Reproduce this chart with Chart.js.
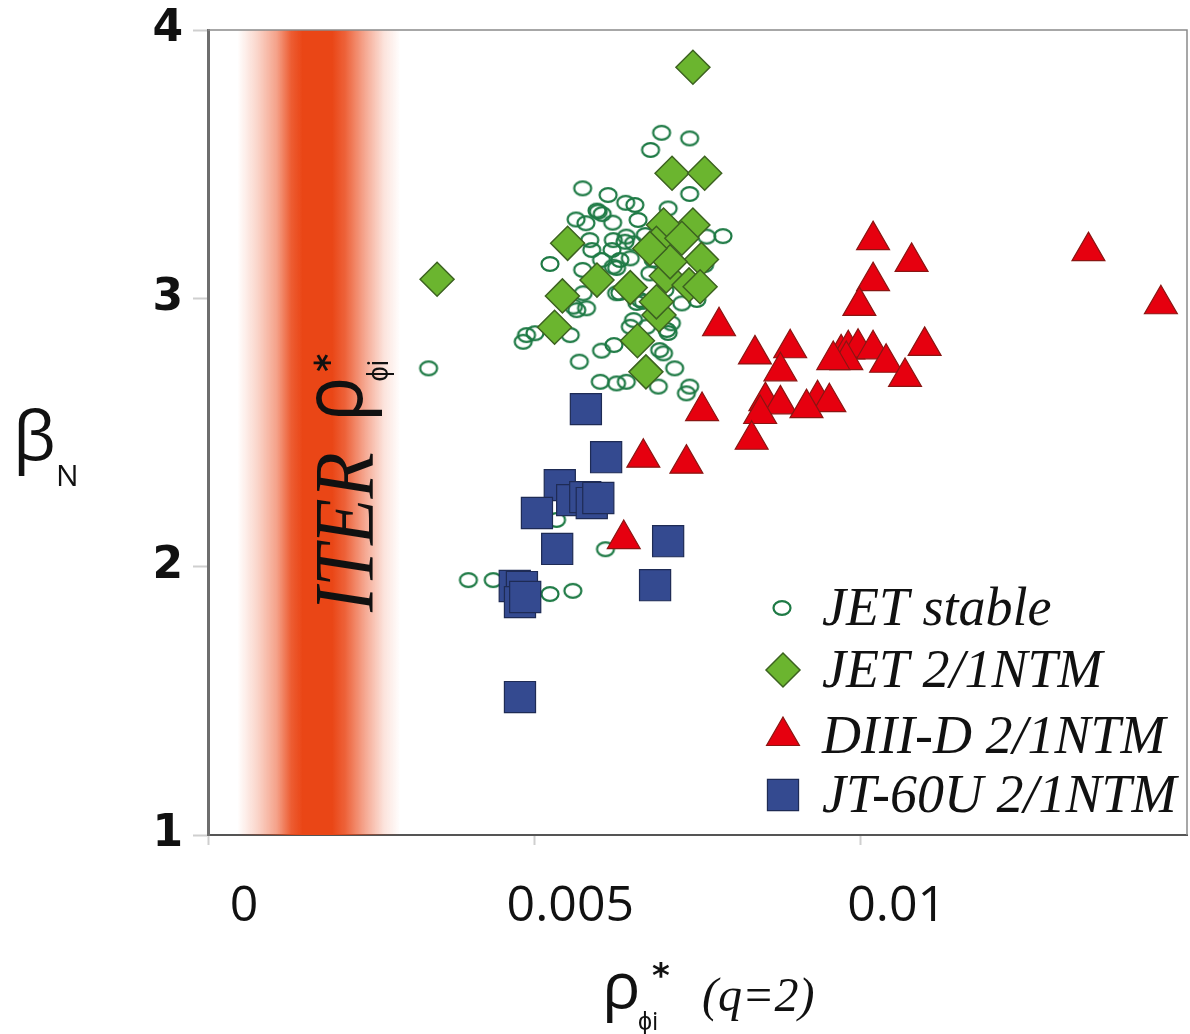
<!DOCTYPE html>
<html>
<head>
<meta charset="utf-8">
<script src="https://cdn.jsdelivr.net/npm/chart.js@4.4.1/dist/chart.umd.min.js"></script>
<style>
  html, body { margin: 0; padding: 0; background: #fff; }
  #wrap { position: relative; width: 1190px; height: 1034px; }
</style>
</head>
<body>
<div id="wrap"><canvas id="chart"></canvas></div>
<script>
// JET discharges without a 2/1 NTM
const xStable = [
  0.00695, 0.00738, 0.00678, 0.00574, 0.00738, 0.00705, 0.00640, 0.00654, 0.00659, 0.00564,
  0.00579, 0.00598, 0.00620, 0.00604, 0.00789, 0.00524, 0.00574, 0.00585, 0.00588, 0.00603,
  0.00631, 0.00647, 0.00652, 0.00641, 0.00621, 0.00764, 0.00626, 0.00662, 0.00575, 0.00580,
  0.00560, 0.00488, 0.00501, 0.00483, 0.00555, 0.00338, 0.00603, 0.00569, 0.00652, 0.00647,
  0.00692, 0.00698, 0.00715, 0.00601, 0.00626, 0.00641, 0.00690, 0.00738, 0.00733, 0.00672,
  0.00703, 0.00710, 0.00677, 0.00726, 0.00667, 0.00621, 0.00682, 0.00399, 0.00437, 0.00524,
  0.00559, 0.00609, 0.00534, 0.00626, 0.00631, 0.00657, 0.00565, 0.00705, 0.00639, 0.00596,
  0.00613, 0.00738, 0.00749, 0.00670, 0.00619, 0.00700, 0.00685, 0.00761, 0.00622
]
const yStable = [
  3.617, 3.596, 3.553, 3.410, 3.389, 3.335, 3.356, 3.348, 3.292, 3.294,
  3.280, 3.323, 3.282, 3.314, 3.232, 3.128, 3.106, 3.217, 3.180, 3.143,
  3.143, 3.149, 3.205, 3.230, 3.118, 3.230, 3.019, 2.994, 3.019, 2.963,
  2.969, 2.863, 2.870, 2.838, 2.863, 2.739, 2.805, 2.764, 2.919, 2.894,
  2.807, 2.795, 2.739, 2.689, 2.683, 2.689, 2.671, 2.671, 2.646, 2.894,
  2.882, 2.907, 3.093, 2.981, 2.987, 3.217, 3.143, 1.950, 1.950, 1.898,
  1.910, 2.065, 2.174, 3.113, 3.020, 2.983, 2.956, 2.871, 3.211, 3.327,
  3.385, 3.031, 2.994, 3.236, 3.180, 3.031, 3.217, 3.124, 2.826
]

// JET 2/1 NTM onsets
const xJet = [0.00743, 0.00711, 0.00761, 0.00351, 0.00551, 0.00596, 0.00647, 0.00543, 0.00531, 0.00671,
  0.00658, 0.00691, 0.00687, 0.00702, 0.00737, 0.00756, 0.00743, 0.00698, 0.00687, 0.00708,
  0.00726, 0.00754, 0.00677]
const yJet = [3.861, 3.466, 3.466, 3.071, 3.205, 3.068, 3.040, 3.009, 2.892, 2.726,
  2.842, 2.938, 2.987, 3.083, 3.050, 3.145, 3.273, 3.273, 3.205, 3.136,
  3.224, 3.043, 3.186]

// DIII-D 2/1 NTM onsets
const xDiiid = [0.01019, 0.01078, 0.01019, 0.00998, 0.01349, 0.01460, 0.00783, 0.00838, 0.00892, 0.01098,
  0.00970, 0.00981, 0.00996, 0.01019, 0.00978, 0.01039, 0.00958, 0.01068, 0.00877, 0.00854,
  0.00877, 0.00846, 0.00934, 0.00952, 0.00917, 0.00833, 0.00757, 0.00667, 0.00733, 0.00637]
const yDiiid = [3.217, 3.136, 3.064, 2.972, 3.176, 2.978, 2.896, 2.791, 2.814, 2.823,
  2.795, 2.810, 2.816, 2.810, 2.770, 2.760, 2.770, 2.707, 2.728, 2.617,
  2.605, 2.569, 2.624, 2.613, 2.591, 2.473, 2.580, 2.406, 2.384, 2.103]

// JT-60U 2/1 NTM onsets
const xJt60 = [0.00579, 0.00610, 0.00539, 0.00558, 0.00578, 0.00588, 0.00598, 0.00504,
  0.00535, 0.00705, 0.00685, 0.00470, 0.00481, 0.00478, 0.00486, 0.00478]
const yJt60 = [2.587, 2.408, 2.304, 2.248, 2.259, 2.237, 2.256, 2.200,
  2.066, 2.095, 1.931, 1.928, 1.924, 1.868, 1.887, 1.514]

const seriesNames = ["JET stable", "JET 2/1NTM", "DIII-D 2/1NTM", "JT-60U 2/1NTM"]
const xTicks = [0, 0.005, 0.01]
const yTicks = [1, 2, 3, 4]

// ITER value of rho*, drawn as a soft band
const iterCenter = 0.0017
const iterHalfWidth = 0.00125

const toPoints = (xs, ys) => xs.map((x, i) => ({ x, y: ys[i] }))

// open ellipse used for the stable shots
const ring = document.createElement("canvas")
ring.width = 22
ring.height = 18
{
  const c = ring.getContext("2d")
  c.strokeStyle = "#1e7a45"
  c.lineWidth = 2.2
  c.beginPath()
  c.ellipse(11, 9, 8.5, 6.8, 0, 0, Math.PI * 2)
  c.stroke()
}

const iterBand = {
  id: "iterBand",
  beforeDatasetsDraw(chart) {
    const { ctx, chartArea, scales } = chart
    const x0 = scales.x.getPixelForValue(iterCenter - iterHalfWidth)
    const x1 = scales.x.getPixelForValue(iterCenter + iterHalfWidth)
    const g = ctx.createLinearGradient(x0, 0, x1, 0)
    const stops = [[0, 0], [0.12, 0.22], [0.24, 0.5], [0.33, 0.88], [0.4, 1], [0.58, 1],
      [0.66, 0.85], [0.78, 0.48], [0.9, 0.15], [1, 0]]
    stops.forEach(([p, a]) => g.addColorStop(p, `rgba(234,70,22,${a})`))
    ctx.save()
    ctx.fillStyle = g
    ctx.fillRect(x0, chartArea.top, x1 - x0, chartArea.bottom - chartArea.top)

    // rotated label inside the band, reading bottom to top
    ctx.translate(373, 612)
    ctx.rotate(-Math.PI / 2)
    ctx.scale(0.9, 1)
    ctx.fillStyle = "#111"
    ctx.textBaseline = "alphabetic"
    ctx.font = 'italic 84px "Liberation Serif", serif'
    ctx.fillText("ITER", 0, 0)
    ctx.font = '84px "Open Sans", sans-serif'
    ctx.fillText("\u03C1", 211, -11)
    ctx.font = 'bold 38px "DejaVu Sans", sans-serif'
    ctx.fillText("*", 267, -32)
    ctx.font = '30px "Open Sans", sans-serif'
    ctx.fillText("\u03D5i", 256, 15)
    ctx.restore()
  },
}

const frame = {
  id: "frame",
  afterDraw(chart) {
    const { ctx, chartArea: a } = chart
    ctx.save()
    ctx.strokeStyle = "#8a8a8a"
    ctx.lineWidth = 1.5
    ctx.beginPath()
    ctx.moveTo(a.left, a.top)
    ctx.lineTo(a.right, a.top)
    ctx.lineTo(a.right, a.bottom)
    ctx.stroke()

    // axis titles
    ctx.fillStyle = "#111"
    ctx.font = '68px "Open Sans", sans-serif'
    ctx.fillText("\u03B2", 13, 460)
    ctx.font = '30px "Open Sans", sans-serif'
    ctx.fillText("N", 56, 486)

    ctx.font = '64px "Open Sans", sans-serif'
    ctx.fillText("\u03C1", 602, 1008)
    ctx.font = 'bold 34px "DejaVu Sans", sans-serif'
    ctx.fillText("*", 652, 987)
    ctx.font = '25px "Open Sans", sans-serif'
    ctx.fillText("\u03D5i", 638, 1030)
    ctx.font = 'italic 48px "Liberation Serif", serif'
    ctx.fillText("(q=2)", 702, 1011)

    // legend
    const rows = [608, 670, 736, 795]
    chart.data.datasets.slice().sort((p, q) => p.legendIndex - q.legendIndex).forEach((ds, i) => {
      const y = rows[i]
      if (ds.pointStyle === ring) {
        ctx.drawImage(ring, 782 - 11, y - 9)
      } else {
        ctx.fillStyle = ds.backgroundColor
        ctx.strokeStyle = ds.borderColor
        ctx.lineWidth = ds.borderWidth
        Chart.helpers.drawPoint(ctx, {
          pointStyle: ds.pointStyle, radius: ds.pointRadius, rotation: 0, borderWidth: ds.borderWidth,
        }, 783, y)
      }
      ctx.fillStyle = "#111"
      ctx.font = 'italic 54px "Liberation Serif", serif'
      ctx.fillText(seriesNames[ds.legendIndex], 822, y + 17)
    })
    ctx.restore()
  },
}

new Chart(document.getElementById("chart"), {
  type: "scatter",
  data: {
    datasets: [
      {
        label: seriesNames[3], legendIndex: 3, order: 0,
        data: toPoints(xJt60, yJt60),
        pointStyle: "rect", pointRadius: 22, pointHoverRadius: 22,
        backgroundColor: "#344a90", borderColor: "#1e2b55", borderWidth: 1.2,
      },
      {
        label: seriesNames[2], legendIndex: 2, order: 1,
        data: toPoints(xDiiid, yDiiid),
        pointStyle: "triangle", pointRadius: 19, pointHoverRadius: 19,
        backgroundColor: "#e6000f", borderColor: "#8a1512", borderWidth: 1.2,
      },
      {
        label: seriesNames[1], legendIndex: 1, order: 2,
        data: toPoints(xJet, yJet),
        pointStyle: "rectRot", pointRadius: 17, pointHoverRadius: 17,
        backgroundColor: "#6bb52f", borderColor: "#3c6220", borderWidth: 1.5,
      },
      {
        label: seriesNames[0], legendIndex: 0, order: 3,
        data: toPoints(xStable, yStable),
        pointStyle: ring, pointRadius: 9,
      },
    ],
  },
  options: {
    responsive: true,
    maintainAspectRatio: false,
    animation: false,
    events: [],
    layout: { autoPadding: false, padding: { top: 30, right: 3, left: 0, bottom: 0 } },
    plugins: { legend: { display: false }, tooltip: { enabled: false } },
    scales: {
      x: {
        type: "linear",
        min: 0,
        max: 0.015,
        afterBuildTicks: (scale) => {
          scale.ticks = xTicks.map((v) => ({ value: v }))
        },
        afterFit: (scale) => {
          scale.height = 199
        },
        border: { color: "#555", width: 2 },
        grid: { drawOnChartArea: false, tickLength: 10, tickColor: "#cfcfcf", tickWidth: 2 },
        ticks: {
          color: "#111",
          padding: 32,
          labelOffset: 36,
          font: { family: '"Open Sans", sans-serif', size: 50 },
          callback: (v) => String(v),
        },
      },
      y: {
        min: 1,
        max: 4,
        afterBuildTicks: (scale) => {
          scale.ticks = yTicks.map((v) => ({ value: v }))
        },
        afterFit: (scale) => {
          scale.width = 208
        },
        border: { color: "#6e6e6e", width: 3 },
        grid: { drawOnChartArea: false, tickLength: 15, tickColor: "#cfcfcf", tickWidth: 2 },
        ticks: {
          color: "#111",
          padding: 10,
          font: { family: '"DejaVu Sans", sans-serif', size: 44, weight: "bold", lineHeight: 0.5 },
        },
      },
    },
  },
  plugins: [iterBand, frame],
})
</script>
</body>
</html>
